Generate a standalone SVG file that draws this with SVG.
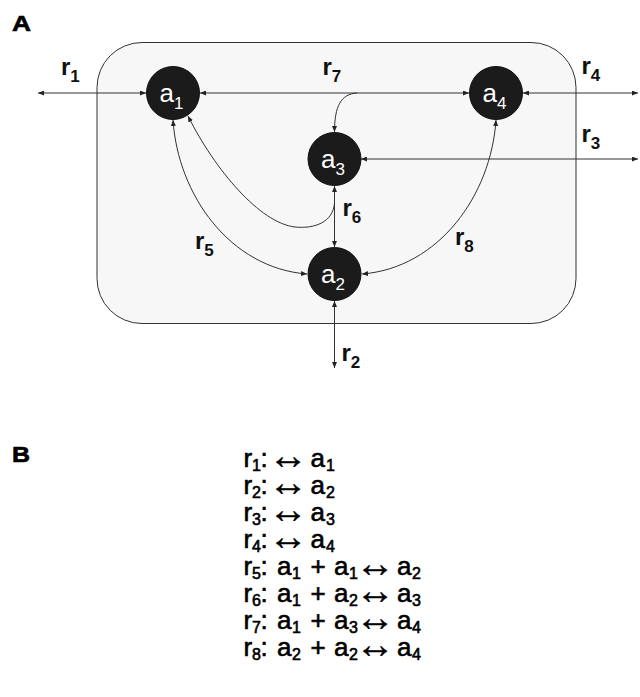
<svg xmlns="http://www.w3.org/2000/svg" width="640" height="697" viewBox="0 0 640 697">
<style>
.panel{font-family:"Liberation Sans",Arial,sans-serif;font-weight:bold;font-size:22px;fill:#000;stroke:#000;stroke-width:0.6}
.lbl{font-family:"Liberation Sans",Arial,sans-serif;font-weight:bold;font-size:24px;fill:#111}
.lbl tspan{font-size:17px}
.node circle{fill:#1b1b1b;stroke:#111;stroke-width:1}
.node text{font-family:"Liberation Sans",Arial,sans-serif;font-size:26px;fill:#fff}
.node text tspan{font-size:17px}
.con{fill:none;stroke:#333;stroke-width:1}
.eq{font-family:"Liberation Sans",Arial,sans-serif;font-size:26px;fill:#000;stroke:#000;stroke-width:0.6}
.sub{font-size:16px}
.arr{font-size:40px;stroke-width:0.3}
</style>
<defs>
<marker id="ah" viewBox="0 0 6 5" refX="6" refY="2.5" markerWidth="6" markerHeight="5" markerUnits="userSpaceOnUse" orient="auto-start-reverse">
<path d="M0,0 L6,2.5 L0,5 z" fill="#222"/>
</marker>
</defs>
<rect width="640" height="697" fill="#fff"/>
<text class="panel" x="12" y="30.5" textLength="19" lengthAdjust="spacingAndGlyphs">A</text>
<g id="compartment">
<rect x="97" y="42.5" width="479" height="281" rx="45" ry="45" fill="#f7f7f7" stroke="#333" stroke-width="1"/>
</g>
<g id="connectors">
<line class="con" x1="38" y1="93" x2="146" y2="93" marker-start="url(#ah)" marker-end="url(#ah)"/>
<line class="con" x1="200" y1="93" x2="469" y2="93" marker-start="url(#ah)" marker-end="url(#ah)"/>
<path class="con" d="M357,93 C341,94 334.5,106 334.5,132" marker-end="url(#ah)"/>
<line class="con" x1="523" y1="93" x2="638" y2="93" marker-start="url(#ah)" marker-end="url(#ah)"/>
<line class="con" x1="361" y1="159" x2="638" y2="159" marker-start="url(#ah)" marker-end="url(#ah)"/>
<line class="con" x1="334.5" y1="186" x2="334.5" y2="247" marker-start="url(#ah)" marker-end="url(#ah)"/>
<path class="con" d="M334.5,203 C333,222 315,229 295,227 C260,223 215,170 188,116" marker-end="url(#ah)"/>
<path class="con" d="M173,120 C178,195 230,268 307,274" marker-start="url(#ah)" marker-end="url(#ah)"/>
<path class="con" d="M496,120 C491,195 439,268 362,274" marker-start="url(#ah)" marker-end="url(#ah)"/>
<line class="con" x1="334.5" y1="301" x2="334.5" y2="368" marker-start="url(#ah)" marker-end="url(#ah)"/>
</g>
<g id="labels">
<text class="lbl" x="61" y="75">r<tspan dy="7">1</tspan></text>
<text class="lbl" x="322.5" y="75">r<tspan dy="7">7</tspan></text>
<text class="lbl" x="581.5" y="74">r<tspan dy="7">4</tspan></text>
<text class="lbl" x="581.5" y="142">r<tspan dy="7">3</tspan></text>
<text class="lbl" x="195" y="249">r<tspan dy="7">5</tspan></text>
<text class="lbl" x="342.5" y="216">r<tspan dy="7">6</tspan></text>
<text class="lbl" x="455" y="245">r<tspan dy="7">8</tspan></text>
<text class="lbl" x="341.5" y="361">r<tspan dy="7">2</tspan></text>
</g>
<g id="a1" class="node"><circle cx="173" cy="93" r="26.5"/><text x="159.5" y="102">a<tspan dy="7">1</tspan></text></g>
<g id="a4" class="node"><circle cx="496" cy="93" r="26.5"/><text x="482.5" y="102">a<tspan dy="7">4</tspan></text></g>
<g id="a3" class="node"><circle cx="334.5" cy="159" r="26.5"/><text x="321" y="168">a<tspan dy="7">3</tspan></text></g>
<g id="a2" class="node"><circle cx="334.5" cy="274" r="26.5"/><text x="321" y="283">a<tspan dy="7">2</tspan></text></g>
<text class="panel" x="12" y="461.5" textLength="18" lengthAdjust="spacingAndGlyphs">B</text>
<g id="equations" class="eq">
<text x="243.5" y="467">r<tspan class="sub" x="252" dy="4">1</tspan><tspan dy="-4" x="260.5">:</tspan><tspan class="arr" x="268" dy="2">↔</tspan><tspan x="310.5" dy="-2">a</tspan><tspan class="sub" x="326" dy="4">1</tspan></text>
<text x="243.5" y="494">r<tspan class="sub" x="252" dy="4">2</tspan><tspan dy="-4" x="260.5">:</tspan><tspan class="arr" x="268" dy="2">↔</tspan><tspan x="310.5" dy="-2">a</tspan><tspan class="sub" x="326" dy="4">2</tspan></text>
<text x="243.5" y="521">r<tspan class="sub" x="252" dy="4">3</tspan><tspan dy="-4" x="260.5">:</tspan><tspan class="arr" x="268" dy="2">↔</tspan><tspan x="310.5" dy="-2">a</tspan><tspan class="sub" x="326" dy="4">3</tspan></text>
<text x="243.5" y="548">r<tspan class="sub" x="252" dy="4">4</tspan><tspan dy="-4" x="260.5">:</tspan><tspan class="arr" x="268" dy="2">↔</tspan><tspan x="310.5" dy="-2">a</tspan><tspan class="sub" x="326" dy="4">4</tspan></text>
<text x="243.5" y="575">r<tspan class="sub" x="252" dy="4">5</tspan><tspan dy="-4" x="260.5">:</tspan><tspan x="277">a</tspan><tspan class="sub" x="292" dy="4">1</tspan><tspan dy="-4" x="310.5">+</tspan><tspan x="334">a</tspan><tspan class="sub" x="349" dy="4">1</tspan><tspan class="arr" dy="-2" x="355">↔</tspan><tspan x="397" dy="-2">a</tspan><tspan class="sub" x="412" dy="4">2</tspan></text>
<text x="243.5" y="602">r<tspan class="sub" x="252" dy="4">6</tspan><tspan dy="-4" x="260.5">:</tspan><tspan x="277">a</tspan><tspan class="sub" x="292" dy="4">1</tspan><tspan dy="-4" x="310.5">+</tspan><tspan x="334">a</tspan><tspan class="sub" x="349" dy="4">2</tspan><tspan class="arr" dy="-2" x="355">↔</tspan><tspan x="397" dy="-2">a</tspan><tspan class="sub" x="412" dy="4">3</tspan></text>
<text x="243.5" y="629">r<tspan class="sub" x="252" dy="4">7</tspan><tspan dy="-4" x="260.5">:</tspan><tspan x="277">a</tspan><tspan class="sub" x="292" dy="4">1</tspan><tspan dy="-4" x="310.5">+</tspan><tspan x="334">a</tspan><tspan class="sub" x="349" dy="4">3</tspan><tspan class="arr" dy="-2" x="355">↔</tspan><tspan x="397" dy="-2">a</tspan><tspan class="sub" x="412" dy="4">4</tspan></text>
<text x="243.5" y="656">r<tspan class="sub" x="252" dy="4">8</tspan><tspan dy="-4" x="260.5">:</tspan><tspan x="277">a</tspan><tspan class="sub" x="292" dy="4">2</tspan><tspan dy="-4" x="310.5">+</tspan><tspan x="334">a</tspan><tspan class="sub" x="349" dy="4">2</tspan><tspan class="arr" dy="-2" x="355">↔</tspan><tspan x="397" dy="-2">a</tspan><tspan class="sub" x="412" dy="4">4</tspan></text>
</g>
</svg>
